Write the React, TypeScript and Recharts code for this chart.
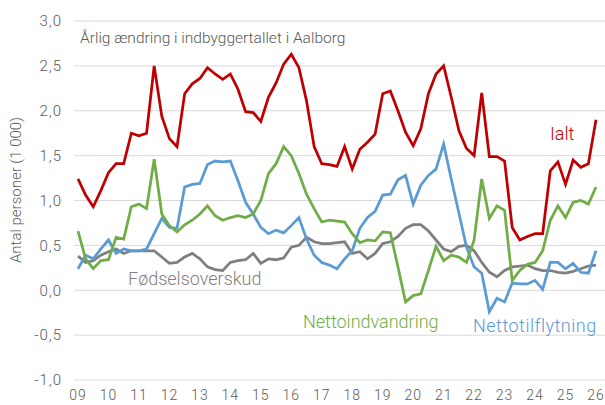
import { LineChart, Line, XAxis, YAxis, CartesianGrid } from 'recharts';

const YEARS = ['09', '10', '11', '12', '13', '14', '15', '16', '17', '18', '19', '20', '21', '22', '23', '24', '25', '26'];
// quarterly points, 2009K1 .. 2026K1
const QUARTERS = YEARS.flatMap((y) => ['1', '2', '3', '4'].map((q) => `${y}K${q}`)).slice(0, 69);

const IALT = [
  1.24, 1.06, 0.93, 1.11, 1.31, 1.41, 1.41, 1.75, 1.72, 1.75, 2.5, 1.94, 1.69, 1.6, 2.19, 2.3, 2.36,
  2.48, 2.41, 2.35, 2.41, 2.24, 1.99, 1.98, 1.88, 2.15, 2.31, 2.52, 2.63, 2.48, 2.11, 1.6, 1.41, 1.4,
  1.38, 1.6, 1.35, 1.57, 1.65, 1.74, 2.19, 2.22, 2.0, 1.76, 1.61, 1.8, 2.19, 2.41, 2.5, 2.15, 1.78,
  1.58, 1.5, 2.2, 1.49, 1.49, 1.44, 0.7, 0.56, 0.6, 0.63, 0.63, 1.33, 1.43, 1.18, 1.45, 1.37, 1.41, 1.9,
];
const NETTOINDVANDRING = [
  0.66, 0.35, 0.24, 0.33, 0.34, 0.59, 0.57, 0.93, 0.96, 0.91, 1.46, 0.85, 0.72, 0.65, 0.73, 0.78, 0.85,
  0.94, 0.83, 0.78, 0.81, 0.83, 0.81, 0.85, 1.0, 1.3, 1.41, 1.6, 1.5, 1.3, 1.07, 0.91, 0.76, 0.78,
  0.77, 0.76, 0.63, 0.53, 0.56, 0.55, 0.65, 0.64, 0.26, -0.13, -0.06, -0.04, 0.22, 0.49, 0.33, 0.39, 0.37,
  0.31, 0.56, 1.24, 0.8, 0.94, 0.89, 0.11, 0.22, 0.29, 0.31, 0.44, 0.78, 0.94, 0.81, 0.98, 1.0, 0.96, 1.15,
];
const NETTOTILFLYTNING = [
  0.24, 0.39, 0.35, 0.46, 0.56, 0.41, 0.46, 0.44, 0.44, 0.46, 0.63, 0.8, 0.7, 0.69, 1.15, 1.18, 1.19,
  1.4, 1.44, 1.43, 1.44, 1.22, 0.98, 0.85, 0.7, 0.63, 0.67, 0.64, 0.72, 0.81, 0.57, 0.39, 0.31, 0.28,
  0.24, 0.35, 0.44, 0.69, 0.81, 0.88, 1.06, 1.07, 1.23, 1.28, 0.96, 1.17, 1.28, 1.35, 1.63, 1.24, 0.86,
  0.48, 0.26, 0.19, -0.24, -0.09, -0.13, 0.08, 0.07, 0.07, 0.11, 0.01, 0.31, 0.31, 0.24, 0.3, 0.2, 0.19, 0.44,
];
const FOEDSELSOVERSKUD = [
  0.38, 0.31, 0.33, 0.39, 0.43, 0.46, 0.41, 0.44, 0.44, 0.44, 0.44, 0.37, 0.3, 0.31, 0.37, 0.41, 0.35,
  0.26, 0.23, 0.22, 0.31, 0.33, 0.34, 0.41, 0.3, 0.35, 0.34, 0.36, 0.48, 0.5, 0.59, 0.54, 0.52, 0.52,
  0.53, 0.54, 0.41, 0.43, 0.35, 0.41, 0.52, 0.54, 0.6, 0.69, 0.73, 0.73, 0.66, 0.56, 0.46, 0.43, 0.49,
  0.5, 0.44, 0.31, 0.2, 0.15, 0.22, 0.26, 0.27, 0.28, 0.24, 0.22, 0.22, 0.2, 0.19, 0.21, 0.24, 0.27, 0.28,
];
const Y_TICKS = [-1, -0.5, 0, 0.5, 1, 1.5, 2, 2.5, 3];

const data = QUARTERS.map((q, i) => ({
  q,
  ialt: IALT[i],
  indv: NETTOINDVANDRING[i],
  tilfl: NETTOTILFLYTNING[i],
  foed: FOEDSELSOVERSKUD[i],
}));

const FONT = 'Roboto, sans-serif';
const TEXT = '#595959';
const RED = '#c00000';
const GREEN = '#70ad47';
const BLUE = '#5b9bd5';
const GRAY = '#7f7f7f';

export default function App() {
  return (
    <div style={{ position: 'absolute', left: 0, top: 0, width: 605, height: 405, background: '#fff' }}>
      <LineChart width={605} height={405} data={data} margin={{ top: 21, right: 0, bottom: 0, left: 0 }}>
        <CartesianGrid vertical={false} stroke="#d9d9d9" strokeWidth={1} />
        <XAxis
          dataKey="q"
          interval={3}
          height={25}
          padding={{ left: 4, right: 9 }}
          axisLine={false}
          tickLine={false}
          tickMargin={4}
          tick={{ fill: TEXT, fontSize: 14, fontFamily: FONT, fontWeight: 300, letterSpacing: 1 }}
          tickFormatter={(v: string) => v.slice(0, 2)}
        />
        <YAxis
          domain={[-1, 3]}
          ticks={Y_TICKS}
          width={74}
          axisLine={false}
          tickLine={false}
          tickMargin={6}
          tick={{ fill: TEXT, fontSize: 15, fontFamily: FONT, fontWeight: 300, letterSpacing: 1 }}
          tickFormatter={(v: number) => v.toFixed(1).replace('.', ',')}
        />
        <Line dataKey="foed" stroke={GRAY} strokeWidth={2.75} dot={false} isAnimationActive={false} />
        <Line dataKey="tilfl" stroke={BLUE} strokeWidth={2.75} dot={false} isAnimationActive={false} />
        <Line dataKey="indv" stroke={GREEN} strokeWidth={2.75} dot={false} isAnimationActive={false} />
        <Line dataKey="ialt" stroke={RED} strokeWidth={2.75} dot={false} isAnimationActive={false} />
      </LineChart>
      <svg width={605} height={405} style={{ position: 'absolute', left: 0, top: 0, pointerEvents: 'none' }}>
        <g fontFamily={FONT} fontWeight={300}>
          <text x={80} y={43} fontSize={15.5} fill={TEXT}>Årlig ændring i indbyggertallet i Aalborg</text>
          <text x={21} y={190} fontSize={15} fill={TEXT} textAnchor="middle" transform="rotate(-90 21 190)">
            Antal personer (1 000)
          </text>
          <text x={550} y={140} fontSize={18} fill={RED}>Ialt</text>
          <text x={128} y={285} fontSize={18} fill={GRAY}>Fødselsoverskud</text>
          <text x={303} y={328} fontSize={18} fill={GREEN}>Nettoindvandring</text>
          <text x={473} y={332} fontSize={18} letterSpacing={0.5} fill={BLUE}>Nettotilflytning</text>
        </g>
      </svg>
    </div>
  );
}
